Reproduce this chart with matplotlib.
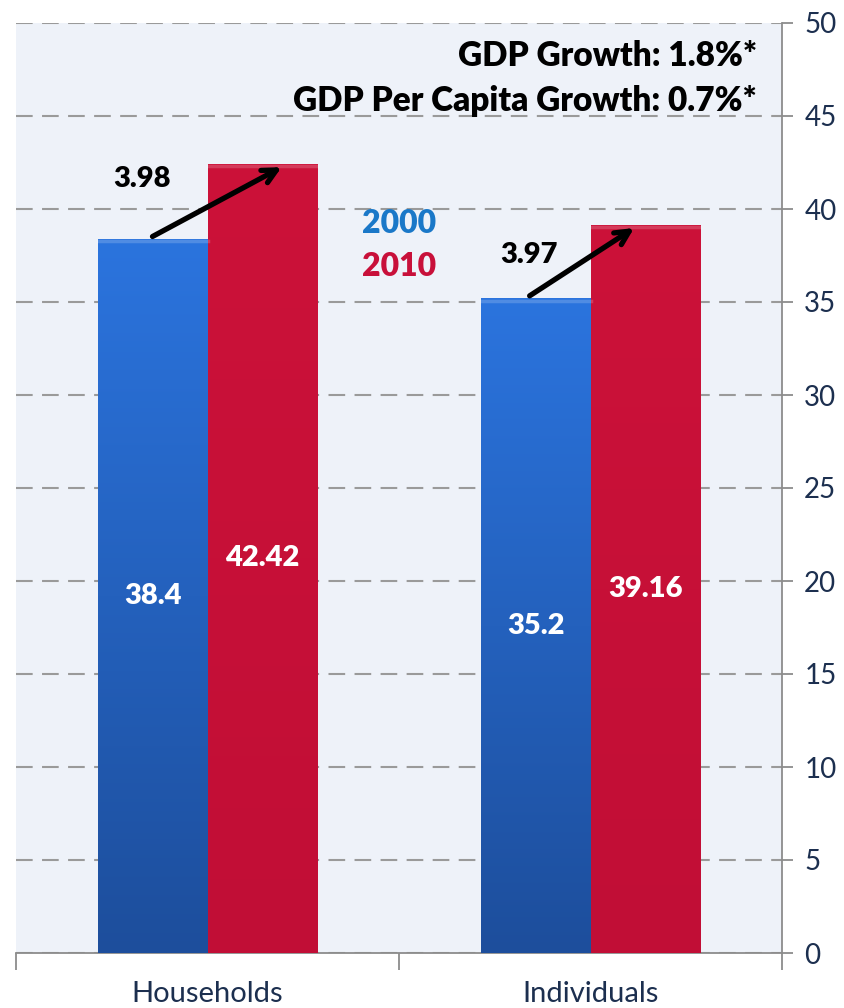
import numpy as np
import matplotlib
matplotlib.use('Agg')
import matplotlib.pyplot as plt
from matplotlib.colors import LinearSegmentedColormap

categories = ['Households', 'Individuals']
years = ['2000', '2010']
vals_2000 = [38.4, 35.2]
vals_2010 = [42.42, 39.16]
changes = ['3.98', '3.97']
notes = ['GDP Growth: 1.8%*', 'GDP Per Capita Growth: 0.7%*']

BLUE_TOP, BLUE_BOT = '#2b74de', '#1d4e9c'
RED_TOP, RED_BOT = '#cc1239', '#c10e36'
BLUE_TXT = '#1a78c8'
RED_TXT = '#c8103a'
NAVY = '#1c2f4f'
BOLD = 'heavy'

plt.rcParams['font.family'] = ['Lato', 'DejaVu Sans']

fig = plt.figure(figsize=(8.44, 10.08), dpi=100)
ax = fig.add_axes([16 / 844, 1 - 953 / 1008, 766 / 844, 930 / 1008])
ax.set_facecolor('#eef2f9')

x = np.arange(len(categories))
w = 0.285


def grad_bars(xs, heights, top, bot):
    bars = ax.bar(xs, heights, w, color='none', edgecolor='none', zorder=3)
    cmap = LinearSegmentedColormap.from_list('g', [bot, top])
    grad = np.linspace(0, 1, 256).reshape(-1, 1)
    for b in bars:
        x0, y0 = b.get_x(), b.get_y()
        im = ax.imshow(grad, cmap=cmap, aspect='auto', origin='lower',
                       extent=[x0, x0 + b.get_width(), y0, y0 + b.get_height()], zorder=3)
        im.set_clip_path(b)
        # soft bevel on top
        ax.plot([x0, x0 + b.get_width()], [b.get_height() - 0.12] * 2,
                color='white', alpha=0.18, lw=2.5, zorder=4)
    return bars


grad_bars(x - w / 2, vals_2000, BLUE_TOP, BLUE_BOT)
grad_bars(x + w / 2, vals_2010, RED_TOP, RED_BOT)

ax.set_xlim(-0.5, 1.5)
ax.set_ylim(0, 50)

# labels inside bars, growth arrows
for i in range(len(categories)):
    ax.text(x[i] - w / 2, vals_2000[i] / 2, f'{vals_2000[i]:g}', color='white',
            fontsize=21, fontweight=BOLD, ha='center', va='center', zorder=5)
    ax.text(x[i] + w / 2, vals_2010[i] / 2, f'{vals_2010[i]:.2f}', color='white',
            fontsize=21, fontweight=BOLD, ha='center', va='center', zorder=5)
    ax.annotate('', xy=(x[i] + 0.2 - 0.08 * i, vals_2010[i] - 0.1),
                xytext=(x[i] - 0.15 - 0.015 * i, vals_2000[i] + 0.05),
                arrowprops=dict(arrowstyle='->,head_length=1.0,head_width=0.5',
                                color='black', lw=3.8), zorder=6)
    ax.text(x[i] - 0.17 + 0.01 * i, vals_2010[i] - 0.8 - 0.85 * i, changes[i],
            fontsize=21, fontweight=BOLD, ha='center', va='center', zorder=6)

ax.text(0.5, 39.2, years[0], color=BLUE_TXT, fontsize=23, fontweight=BOLD,
        ha='center', va='center')
ax.text(0.5, 36.9, years[1], color=RED_TXT, fontsize=23, fontweight=BOLD,
        ha='center', va='center')

ax.text(1.435, 48.2, notes[0], fontsize=24, fontweight=BOLD, ha='right', va='center')
ax.text(1.435, 45.8, notes[1], fontsize=24, fontweight=BOLD, ha='right', va='center')

# axes styling
ax.yaxis.tick_right()
ax.set_yticks(range(0, 51, 5))
ax.grid(axis='y', color='#9a9a9a', linestyle=(0, (8, 4.5)), lw=1.5, zorder=1)
ax.set_axisbelow(True)
for s in ['top', 'left']:
    ax.spines[s].set_visible(False)
ax.spines['right'].set_color('#8c8c8c')
ax.spines['bottom'].set_color('#8c8c8c')
ax.spines['right'].set_linewidth(1.3)
ax.spines['bottom'].set_linewidth(1.3)
ax.tick_params(axis='y', colors='#8c8c8c', labelcolor=NAVY, labelsize=20,
               length=8, width=1.3, pad=8)
ax.set_xticks([-0.5, 0.5, 1.5])
ax.set_xticklabels([])
ax.set_xticks(x, minor=True)
ax.set_xticklabels(categories, minor=True)
ax.tick_params(axis='x', which='major', colors='#8c8c8c', length=12, width=1.3)
ax.tick_params(axis='x', which='minor', length=0, labelcolor=NAVY, labelsize=21, pad=20)

fig.savefig('out.png', dpi=100)
